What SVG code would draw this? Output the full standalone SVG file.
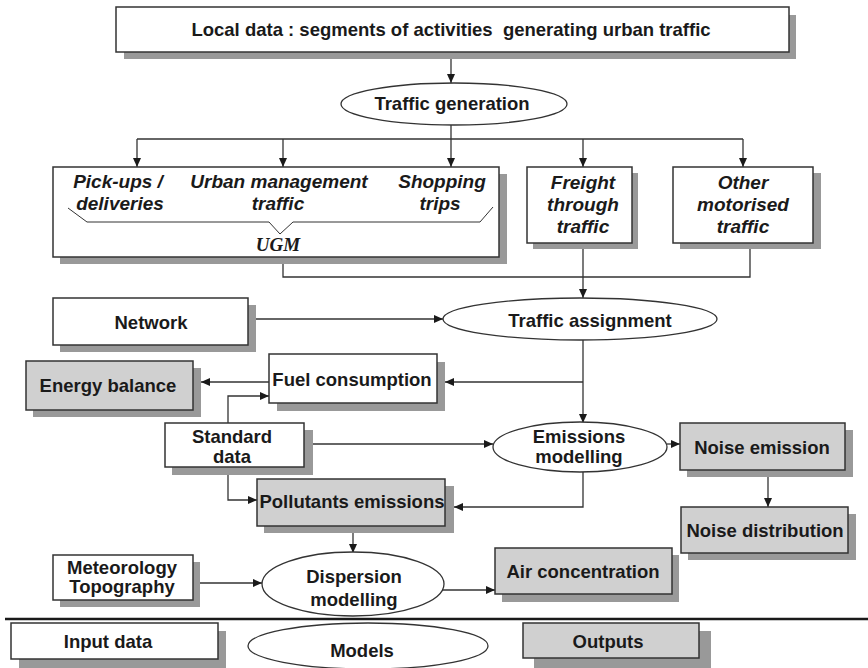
<svg xmlns="http://www.w3.org/2000/svg" width="868" height="668" viewBox="0 0 868 668">
  <defs>
    <marker id="arrow" markerUnits="userSpaceOnUse" markerWidth="9" markerHeight="8" refX="9" refY="4" orient="auto">
      <path d="M0,0 L9,4 L0,8 z" fill="#1a1a1a"/>
    </marker>
  </defs>
  <style>
    .shadow { fill: #999999; stroke: none; }
    .box { fill: #ffffff; stroke: #333333; stroke-width: 1.5; }
    .out { fill: #d0d0d0; stroke: #333333; stroke-width: 1.5; }
    .oval { fill: #ffffff; stroke: #333333; stroke-width: 1.3; }
    .lbl { font-family: "Liberation Sans", Arial, sans-serif; font-weight: bold; font-size: 18.5px; fill: #1a1a1a; text-anchor: middle; }
    .it { font-family: "Liberation Sans", Arial, sans-serif; font-weight: bold; font-style: italic; font-size: 19px; fill: #1a1a1a; text-anchor: middle; }
    .ugm { font-family: "Liberation Serif", "Times New Roman", serif; font-weight: bold; font-style: italic; font-size: 19px; fill: #1a1a1a; text-anchor: middle; }
    .wire { fill: none; stroke: #333333; stroke-width: 1.3; }
    .arr { marker-end: url(#arrow); }
  </style>
  <rect width="868" height="668" fill="#ffffff"/>

  <!-- connectors -->
  <g id="connectors">
    <path class="wire arr" d="M451,52 V83"/>
    <path class="wire" d="M137,139 H743"/>
    <path class="wire arr" d="M451,125 V167"/>
    <path class="wire arr" d="M137,139 V167"/>
    <path class="wire arr" d="M283,139 V167"/>
    <path class="wire arr" d="M583,139 V167"/>
    <path class="wire arr" d="M743,139 V167"/>
    <path class="wire" d="M283,257 V277 H750 V243"/>
    <path class="wire arr" d="M583,243 V298"/>
    <path class="wire arr" d="M256,319 H443"/>
    <path class="wire arr" d="M583,340 V423"/>
    <path class="wire arr" d="M583,382 H445"/>
    <path class="wire arr" d="M269,382 H201"/>
    <path class="wire arr" d="M228,423 V396 H269"/>
    <path class="wire arr" d="M312,444 H493"/>
    <path class="wire arr" d="M667,444 H680"/>
    <path class="wire arr" d="M228,467 V500 H257"/>
    <path class="wire arr" d="M583,472 V507 H454"/>
    <path class="wire arr" d="M353,526 V553"/>
    <path class="wire arr" d="M200,583 H262"/>
    <path class="wire arr" d="M441,590 H495"/>
    <path class="wire arr" d="M768,477 V507"/>
    <path d="M5,619 H868" stroke="#1a1a1a" stroke-width="2.5" fill="none"/>
  </g>

  <g id="local-data">
    <rect class="shadow" x="124" y="15" width="672" height="44"/>
    <rect class="box" x="116" y="7" width="673" height="45"/>
    <text class="lbl" x="451" y="36" xml:space="preserve">Local data : segments of activities  generating urban traffic</text>
  </g>

  <g id="traffic-generation">
    <ellipse class="oval" cx="454" cy="104" rx="113" ry="21"/>
    <text class="lbl" x="452" y="110">Traffic generation</text>
  </g>

  <g id="ugm">
    <rect class="shadow" x="60" y="174" width="447" height="90"/>
    <rect class="box" x="53" y="167" width="446" height="90"/>
    <text class="it" x="118" y="188">Pick-ups /</text>
    <text class="it" x="120" y="210">deliveries</text>
    <text class="it" x="279" y="188">Urban management</text>
    <text class="it" x="278" y="210">traffic</text>
    <text class="it" x="442" y="188">Shopping</text>
    <text class="it" x="440" y="210">trips</text>
    <path d="M68,208 L87,222 H269 L280,234 L293,222 H480 L493,207" fill="none" stroke="#333333" stroke-width="1"/>
    <text class="ugm" x="278" y="251">UGM</text>
  </g>

  <g id="freight">
    <rect class="shadow" x="533" y="173" width="105" height="76"/>
    <rect class="box" x="527" y="167" width="105" height="76"/>
    <text class="it" x="583" y="189">Freight</text>
    <text class="it" x="583" y="211">through</text>
    <text class="it" x="583" y="233">traffic</text>
  </g>

  <g id="other-motorised">
    <rect class="shadow" x="680" y="173" width="141" height="76"/>
    <rect class="box" x="673" y="167" width="140" height="76"/>
    <text class="it" x="743" y="189">Other</text>
    <text class="it" x="743" y="211">motorised</text>
    <text class="it" x="743" y="233">traffic</text>
  </g>

  <g id="network">
    <rect class="shadow" x="60" y="305" width="196" height="47"/>
    <rect class="box" x="53" y="298" width="195" height="47"/>
    <text class="lbl" x="151" y="329">Network</text>
  </g>

  <g id="traffic-assignment">
    <ellipse class="oval" cx="580" cy="319" rx="137" ry="21"/>
    <text class="lbl" x="590" y="327">Traffic assignment</text>
  </g>

  <g id="energy-balance">
    <rect class="shadow" x="33" y="368" width="168" height="49"/>
    <rect class="out" x="26" y="361" width="167" height="49"/>
    <text class="lbl" x="108" y="392">Energy balance</text>
  </g>

  <g id="fuel-consumption">
    <rect class="shadow" x="277" y="362" width="168" height="49"/>
    <rect class="box" x="269" y="354" width="168" height="49"/>
    <text class="lbl" x="352" y="386">Fuel consumption</text>
  </g>

  <g id="standard-data">
    <rect class="shadow" x="172" y="430" width="141" height="45"/>
    <rect class="box" x="165" y="423" width="139" height="44"/>
    <text class="lbl" x="232" y="443">Standard</text>
    <text class="lbl" x="232" y="463">data</text>
  </g>

  <g id="emissions-modelling">
    <ellipse class="oval" cx="580" cy="447" rx="87" ry="25"/>
    <text class="lbl" x="579" y="443">Emissions</text>
    <text class="lbl" x="579" y="463">modelling</text>
  </g>

  <g id="noise-emission">
    <rect class="shadow" x="687" y="430" width="166" height="47"/>
    <rect class="out" x="680" y="423" width="165" height="47"/>
    <text class="lbl" x="762" y="454">Noise emission</text>
  </g>

  <g id="pollutants-emissions">
    <rect class="shadow" x="264" y="486" width="190" height="47"/>
    <rect class="out" x="257" y="479" width="188" height="47"/>
    <text class="lbl" x="352" y="508">Pollutants emissions</text>
  </g>

  <g id="noise-distribution">
    <rect class="shadow" x="688" y="514" width="168" height="46"/>
    <rect class="out" x="681" y="507" width="167" height="46"/>
    <text class="lbl" x="765" y="537">Noise distribution</text>
  </g>

  <g id="meteorology">
    <rect class="shadow" x="60" y="562" width="140" height="45"/>
    <rect class="box" x="53" y="555" width="140" height="45"/>
    <text class="lbl" x="122" y="574">Meteorology</text>
    <text class="lbl" x="122" y="593">Topography</text>
  </g>

  <g id="dispersion-modelling">
    <ellipse class="oval" cx="353" cy="584" rx="91" ry="32"/>
    <text class="lbl" x="354" y="583">Dispersion</text>
    <text class="lbl" x="354" y="606">modelling</text>
  </g>

  <g id="air-concentration">
    <rect class="shadow" x="502" y="555" width="177" height="47"/>
    <rect class="out" x="495" y="548" width="177" height="46"/>
    <text class="lbl" x="583" y="578">Air concentration</text>
  </g>

  <g id="legend-input">
    <rect class="shadow" x="19" y="631" width="207" height="37"/>
    <rect class="box" x="11" y="623" width="207" height="36"/>
    <text class="lbl" x="108" y="648">Input data</text>
  </g>

  <g id="legend-models">
    <ellipse class="oval" cx="368" cy="646" rx="120" ry="23"/>
    <text class="lbl" x="362" y="657">Models</text>
  </g>

  <g id="legend-outputs">
    <rect class="shadow" x="534" y="631" width="177" height="37"/>
    <rect class="out" x="523" y="623" width="176" height="35"/>
    <text class="lbl" x="608" y="648">Outputs</text>
  </g>
</svg>
